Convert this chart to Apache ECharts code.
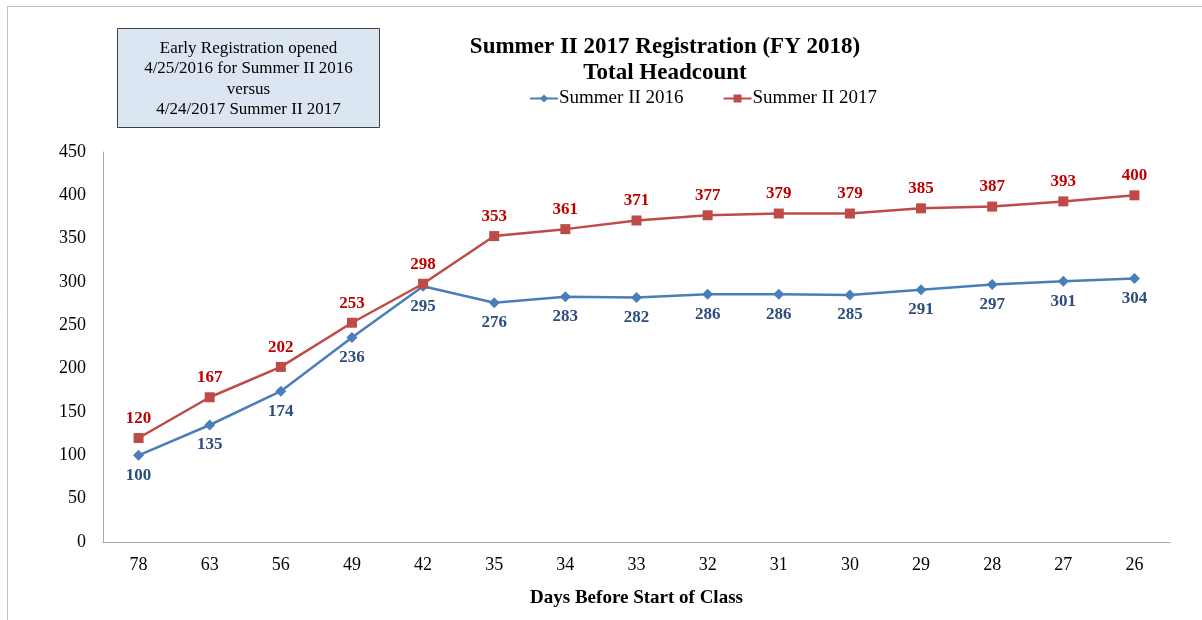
<!DOCTYPE html>
<html>
<head>
<meta charset="utf-8">
<script src="https://cdn.jsdelivr.net/npm/echarts@6/dist/echarts.min.js"></script>
<style>
  html, body { margin: 0; padding: 0; background: #fff; }
  #chart { width: 1202px; height: 620px; }
</style>
</head>
<body>
<div id="chart"></div>
<script>
const days = ['78', '63', '56', '49', '42', '35', '34', '33', '32', '31', '30', '29', '28', '27', '26']
const summer2016 = [100, 135, 174, 236, 295, 276, 283, 282, 286, 286, 285, 291, 297, 301, 304]
const summer2017 = [120, 167, 202, 253, 298, 353, 361, 371, 377, 379, 379, 385, 387, 393, 400]
const noteLines = ['Early Registration opened', '4/25/2016 for Summer II 2016', 'versus', '4/24/2017 Summer II 2017']

const font = 'Liberation Serif, Times New Roman, serif'
let myChart = echarts.init(document.getElementById('chart'))

let option = {
  backgroundColor: '#fff',
  animation: false,
  textStyle: { fontFamily: font },
  title: {
    text: 'Summer II 2017 Registration (FY 2018)\nTotal Headcount',
    left: 660,
    top: 29,
    textAlign: 'center',
    textStyle: {
      fontFamily: font,
      fontSize: 23,
      fontWeight: 'bold',
      color: '#000',
      lineHeight: 26
    }
  },
  legend: {
    left: 524,
    top: 84,
    itemWidth: 28,
    itemHeight: 10,
    itemGap: 39,
    textStyle: { fontFamily: font, fontSize: 19, color: '#000', padding: [0, 0, 0, -4] },
    data: ['Summer II 2016', 'Summer II 2017']
  },
  graphic: [
    {
      type: 'rect',
      shape: { x: 7.5, y: 6.5, width: 1210, height: 630 },
      style: { fill: 'none', stroke: '#bfbfbf', lineWidth: 1 },
      silent: true
    },
    {
      type: 'rect',
      shape: { x: 117.5, y: 28.5, width: 262, height: 99 },
      style: { fill: '#dce6f2', stroke: '#404040', lineWidth: 1 },
      silent: true
    },
    {
      type: 'text',
      x: 248.5,
      y: 38,
      style: {
        text: noteLines.join('\n'),
        align: 'center',
        verticalAlign: 'top',
        fontFamily: font,
        fontSize: 17,
        lineHeight: 20.5,
        fill: '#000'
      },
      silent: true
    }
  ],
  grid: {
    left: 103,
    right: 32,
    top: 152,
    bottom: 78,
    containLabel: false
  },
  xAxis: {
    type: 'category',
    data: days,
    boundaryGap: true,
    name: 'Days Before Start of Class',
    nameLocation: 'middle',
    nameGap: 47,
    nameTextStyle: { fontFamily: font, fontSize: 19, fontWeight: 'bold', color: '#000' },
    axisLine: { lineStyle: { color: '#a6a6a6', width: 1 } },
    axisTick: { show: false },
    axisLabel: { fontFamily: font, fontSize: 18, color: '#000', margin: 14 },
    splitLine: { show: false }
  },
  yAxis: {
    type: 'value',
    min: 0,
    max: 450,
    interval: 50,
    axisLine: { show: true, lineStyle: { color: '#a6a6a6', width: 1 } },
    axisTick: { show: false },
    axisLabel: { fontFamily: font, fontSize: 18, color: '#000', margin: 17 },
    splitLine: { show: false }
  },
  series: [
    {
      name: 'Summer II 2016',
      type: 'line',
      data: summer2016,
      symbol: 'diamond',
      symbolSize: 11,
      lineStyle: { width: 2.5, color: '#4a7ebb' },
      itemStyle: { color: '#4a7ebb' },
      label: {
        show: true,
        position: 'bottom',
        distance: 6,
        fontFamily: font,
        fontSize: 17,
        fontWeight: 'bold',
        color: '#2c4d7d'
      }
    },
    {
      name: 'Summer II 2017',
      type: 'line',
      data: summer2017,
      symbol: 'rect',
      symbolSize: 10,
      lineStyle: { width: 2.5, color: '#be4b48' },
      itemStyle: { color: '#be4b48' },
      label: {
        show: true,
        position: 'top',
        distance: 6,
        fontFamily: font,
        fontSize: 17,
        fontWeight: 'bold',
        color: '#c00000'
      }
    }
  ]
}

myChart.setOption(option)
window.addEventListener('resize', function () {
  myChart.resize()
})
</script>
</body>
</html>
